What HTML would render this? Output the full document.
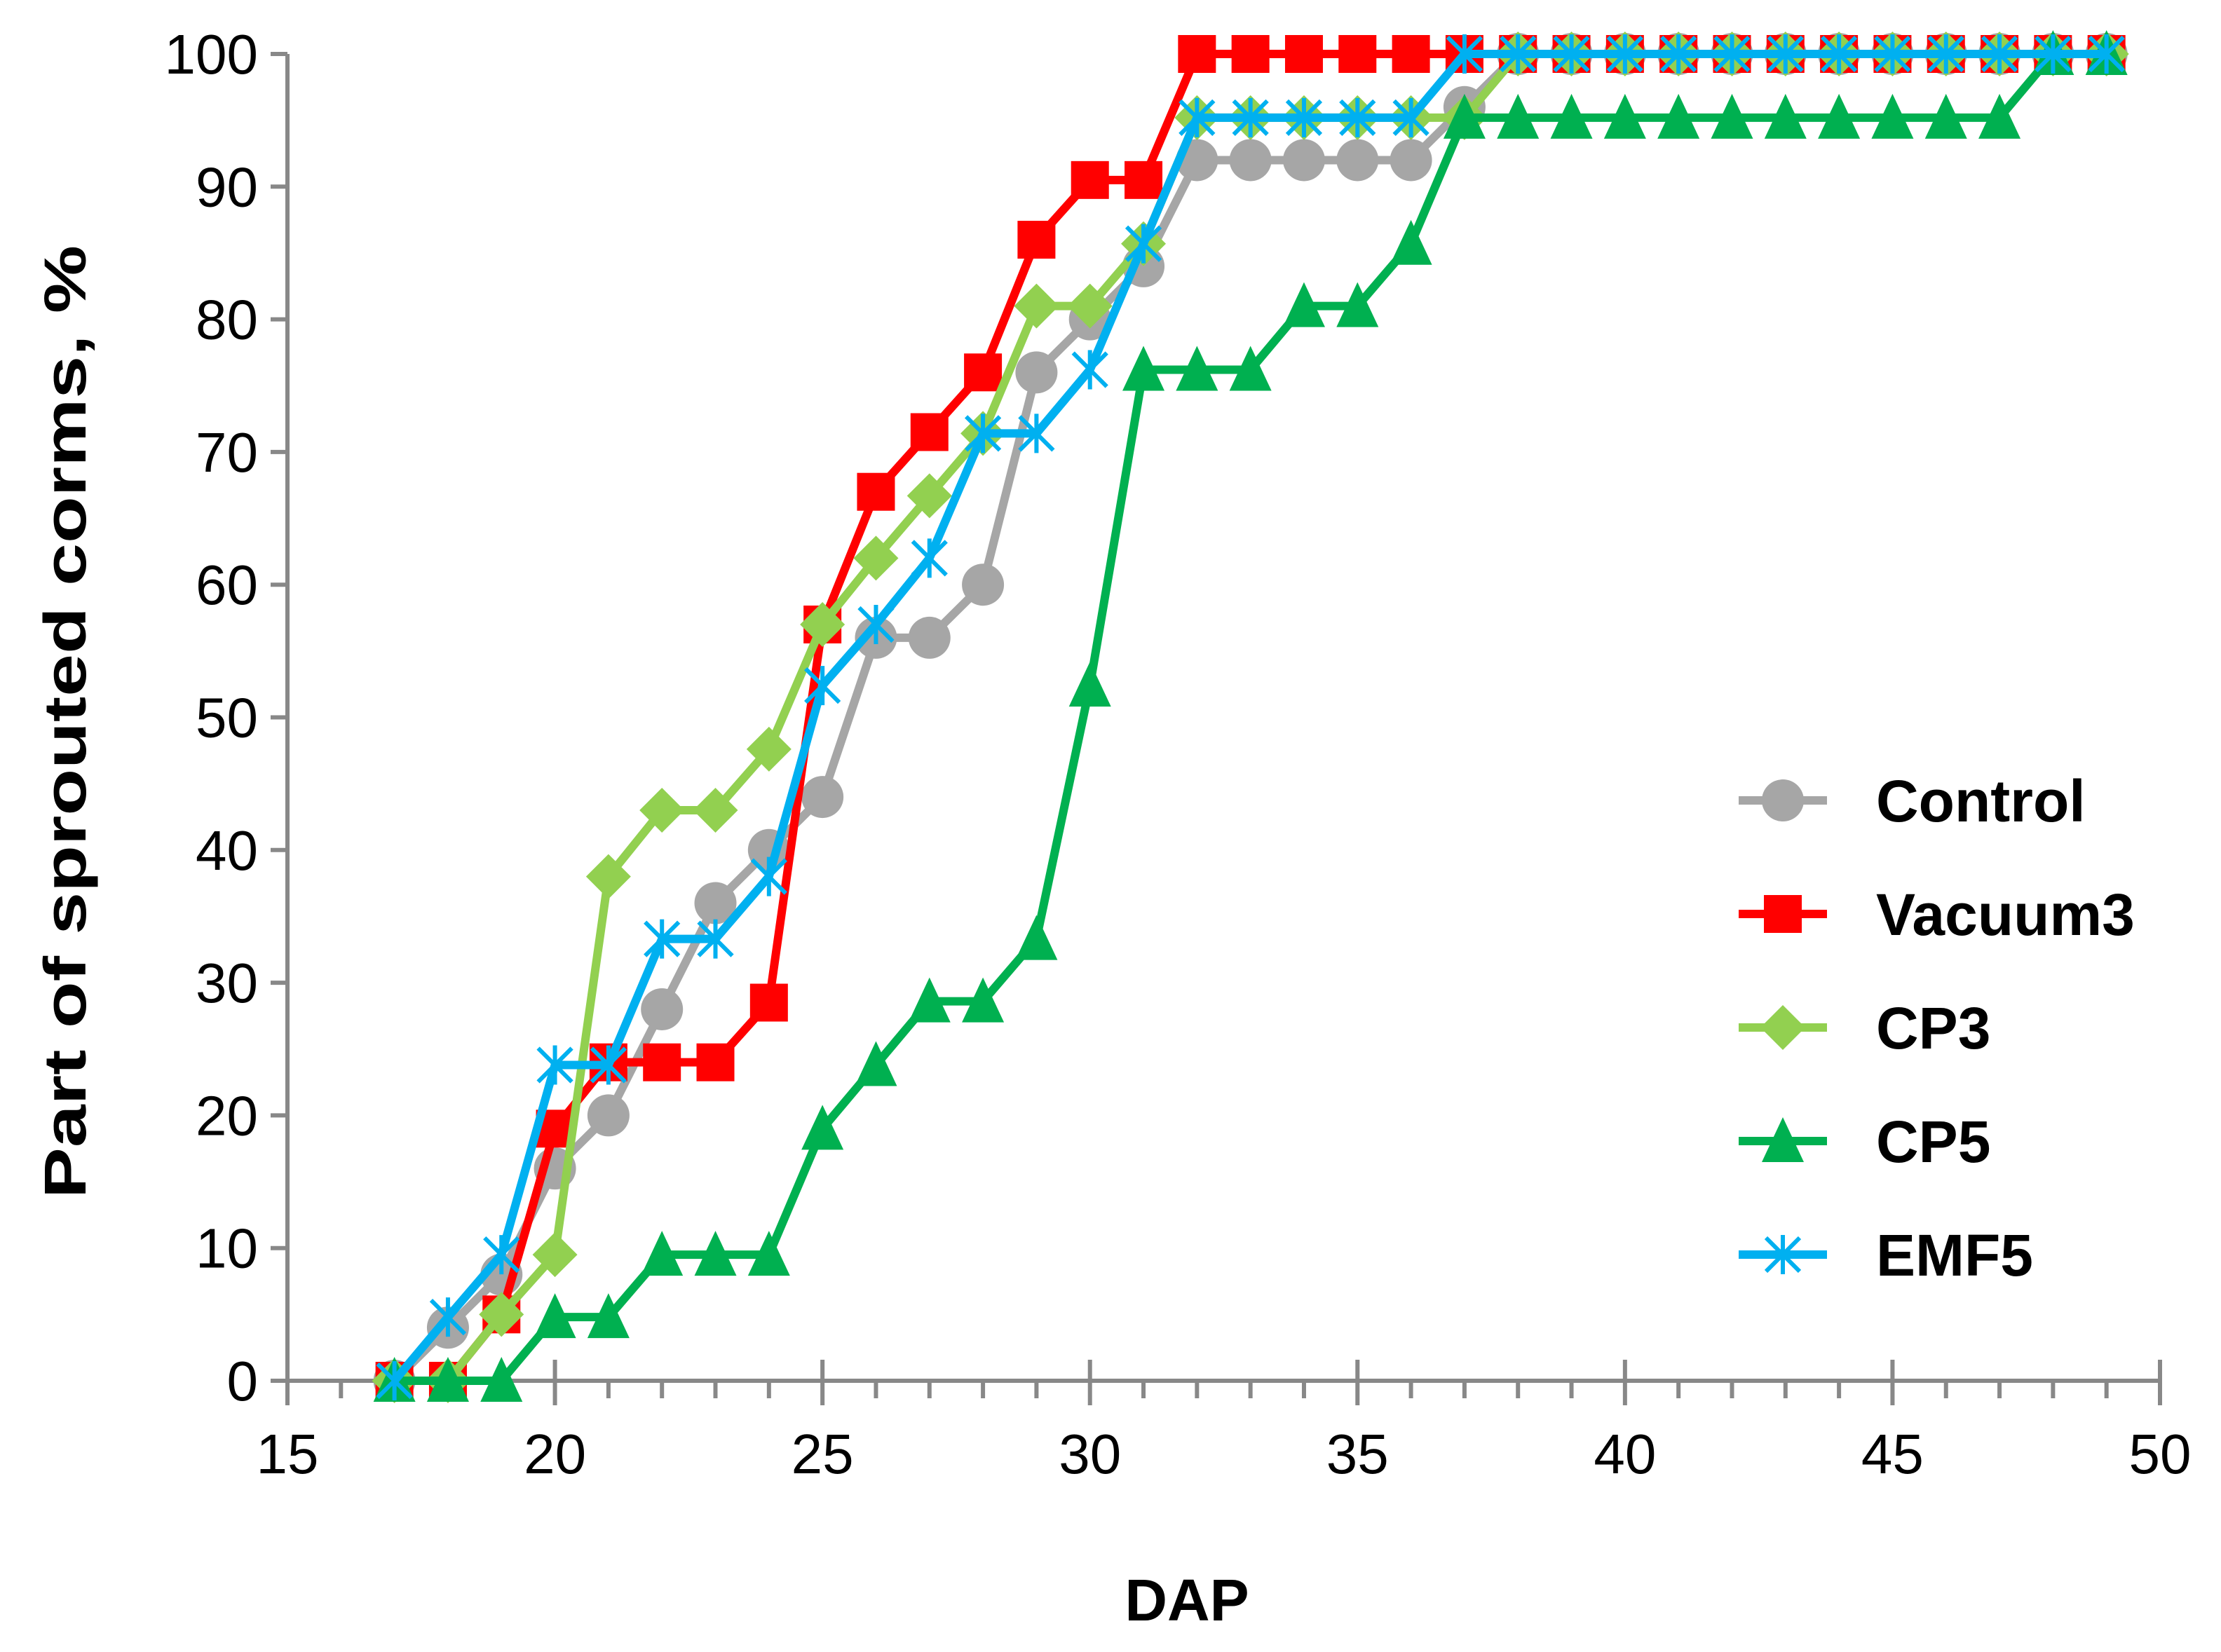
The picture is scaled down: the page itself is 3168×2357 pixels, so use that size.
<!DOCTYPE html>
<html><head><meta charset="utf-8"><style>
html,body{margin:0;padding:0;background:#fff;}
svg{display:block;font-family:"Liberation Sans",sans-serif;}
</style></head><body>
<svg id="chart" width="3168" height="2357" viewBox="0 0 3168 2357">
<g id="axes"></g>
<g id="series"></g>
<g id="legend"></g>
<text x="0" y="0" transform="translate(122,1030) rotate(-90)" text-anchor="middle" font-size="84" font-weight="bold" textLength="1360" lengthAdjust="spacingAndGlyphs">Part of sprouted corms, %</text>
<text x="1693" y="2312" text-anchor="middle" font-size="84" font-weight="bold">DAP</text>
</svg>
<script>
const days = [17,18,19,20,21,22,23,24,25,26,27,28,29,30,31,32,33,34,35,36,37,38,39,40,41,42,43,44,45,46,47,48,49];
const controlVals = [0,4,8,16,20,28,36,40,44,56,56,60,76,80,84,92,92,92,92,92,96,100,100,100,100,100,100,100,100,100,100,100,100];
const vacuum3Vals = [0,0,5,19,24,24,24,28.5,57,67,71.5,76,86,90.5,90.5,100,100,100,100,100,100,100,100,100,100,100,100,100,100,100,100,100,100];
const cp3Vals = [0,0,5,9.5,38,43,43,47.6,57,62,66.7,71.4,81,81,85.7,95.2,95.2,95.2,95.2,95.2,95.2,100,100,100,100,100,100,100,100,100,100,100,100];
const cp5Vals = [0,0,0,4.8,4.8,9.5,9.5,9.5,19,23.8,28.6,28.6,33.3,52.4,76.2,76.2,76.2,81,81,85.7,95.2,95.2,95.2,95.2,95.2,95.2,95.2,95.2,95.2,95.2,95.2,100,100];
const emf5Vals = [0,4.8,9.5,23.8,23.8,33.3,33.3,38,52.4,57,62,71.4,71.4,76.2,85.7,95.2,95.2,95.2,95.2,95.2,100,100,100,100,100,100,100,100,100,100,100,100,100];
const seriesNames = ["Control","Vacuum3","CP3","CP5","EMF5"];
const xTicks = [15,20,25,30,35,40,45,50];
const yTicks = [0,10,20,30,40,50,60,70,80,90,100];

const NS="http://www.w3.org/2000/svg";
const X0=410,X1=3081,Y0=1970,Y1=77;
const xs=v=>X0+(v-15)/35*(X1-X0);
const ys=v=>Y0-v/100*(Y0-Y1);
function mk(tag,attrs,parent){const e=document.createElementNS(NS,tag);for(const k in attrs)e.setAttribute(k,attrs[k]);parent.appendChild(e);return e;}
const axes=document.getElementById('axes');
const AX="#888888";
let e=mk('line',{x1:X0,y1:Y0,x2:X0,y2:Y1,stroke:AX,'stroke-width':6},axes);


e=mk('line',{x1:X0-24,y1:Y0,x2:X1,y2:Y0,stroke:AX,'stroke-width':6},axes);


yTicks.forEach(t=>{
  const y=ys(t);
  let l=mk('line',{x1:X0-24,y1:y,x2:X0,y2:y,stroke:AX,'stroke-width':6},axes);
  
  
  let tx=mk('text',{x:X0-42,y:y+28,'text-anchor':'end','font-size':80,fill:'#000'},axes);
  tx.textContent=t;
  
  
});
for(let d=15;d<=50;d++){
  const x=xs(d);const major=d%5===0;
  let l=mk('line',{x1:x,y1:major?Y0-30:Y0,x2:x,y2:Y0+(major?35:25),stroke:AX,'stroke-width':6},axes);
  
  
}
xTicks.forEach(t=>{
  let tx=mk('text',{x:xs(t),y:2102,'text-anchor':'middle','font-size':80,fill:'#000'},axes);
  tx.textContent=t;
  
  
});
const colors=["#a6a6a6","#ff0000","#92d050","#00b050","#00b0f0"];
const data=[controlVals,vacuum3Vals,cp3Vals,cp5Vals,emf5Vals];
const shapes=["circle","square","diamond","triangle","star"];
function marker(shape,x,y,c,g){
  let m;
  if(shape==="circle")m=mk('circle',{cx:x,cy:y,r:30,fill:c},g);
  else if(shape==="square")m=mk('rect',{x:x-27,y:y-27,width:54,height:54,fill:c},g);
  else if(shape==="diamond")m=mk('polygon',{points:`${x},${y-32} ${x+32},${y} ${x},${y+32} ${x-32},${y}`,fill:c},g);
  else if(shape==="triangle")m=mk('polygon',{points:`${x},${y-34} ${x+30},${y+30} ${x-30},${y+30}`,fill:c},g);
  else {m=mk('path',{d:`M${x-24},${y-24}L${x+24},${y+24}M${x-24},${y+24}L${x+24},${y-24}M${x},${y-28}L${x},${y+28}`,stroke:c,'stroke-width':6,fill:'none'},g);}
  return m;
}
const sg=document.getElementById('series');
data.forEach((vals,i)=>{
  const g=mk('g',{},sg);
  
  
  const pts=vals.map((v,j)=>xs(days[j])+','+ys(v)).join(' ');
  let pl=mk('polyline',{points:pts,fill:'none',stroke:colors[i],'stroke-width':12,'stroke-linejoin':'round'},g);
  
  
  vals.forEach((v,j)=>{
    const m=marker(shapes[i],xs(days[j]),ys(v),colors[i],g);
    
    
  });
});
const lg=document.getElementById('legend');
seriesNames.forEach((n,i)=>{
  const y=1142+i*162;
  const g=mk('g',{},lg);
  
  
  mk('line',{x1:2480,y1:y,x2:2606,y2:y,stroke:colors[i],'stroke-width':12},g);
  marker(shapes[i],2543,y,colors[i],g);
  let t=mk('text',{x:2676,y:y+30,'font-size':84,'font-weight':'bold',fill:'#000'},g);
  t.textContent=n;
  
  
});
</script>
</body></html>
